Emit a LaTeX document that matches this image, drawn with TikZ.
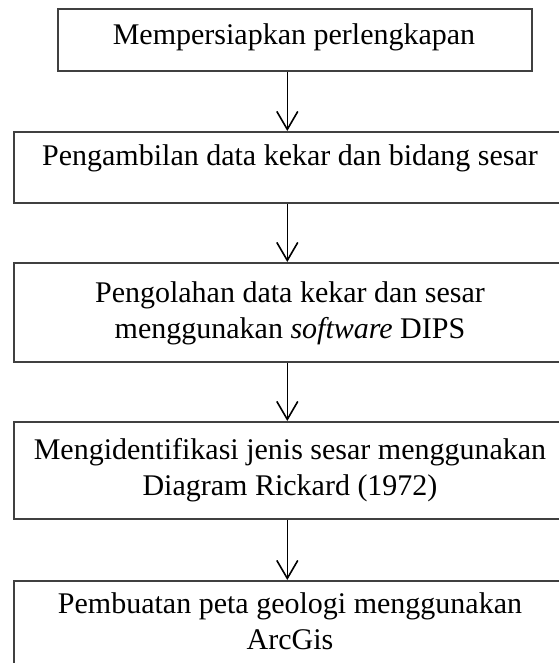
\documentclass[tikz,border=0pt]{standalone}
\usepackage{fontspec}
\setmainfont{Liberation Serif}
\usetikzlibrary{arrows.meta}
\begin{document}
\begin{tikzpicture}[x=1pt,y=-1pt,
  boxst/.style={draw=black!75,line width=1.6pt,inner sep=0pt},
  txt/.style={font=\fontsize{30}{36}\selectfont,align=center,inner sep=0pt,anchor=base},
  arr/.style={line width=1.6pt,draw=black,-{Straight Barb[length=18pt,width=21pt,line width=1.6pt]}}]
\useasboundingbox (0,0) rectangle (558,663);
\fill[white] (0,0) rectangle (558,663);
\node[boxst,minimum width=474pt,minimum height=62pt,anchor=north west] (b1) at (57,8) {};
\node[boxst,minimum width=547pt,minimum height=71pt,anchor=north west] (b2) at (13,131) {};
\node[boxst,minimum width=547pt,minimum height=99pt,anchor=north west] (b3) at (13,262) {};
\node[boxst,minimum width=547pt,minimum height=97pt,anchor=north west] (b4) at (13,421) {};
\node[boxst,minimum width=547pt,minimum height=99pt,anchor=north west] (b5) at (13,580) {};
\node[txt] (t1) at (294,45) {Mempersiapkan perlengkapan};
\node[txt] (t2) at (290,165) {Pengambilan data kekar dan bidang sesar};
\node[txt] (t3) at (290,338) {Pengolahan data kekar dan sesar\\menggunakan \textit{software} DIPS};
\node[txt] (t4) at (290,495) {Mengidentifikasi jenis sesar menggunakan\\Diagram Rickard (1972)};
\node[txt] (t5) at (290,649) {Pembuatan peta geologi menggunakan\\ArcGis};
\draw[arr] (b1.south -| b2.north) -- (b2.north);
\draw[arr] (b2.south) -- (b3.north);
\draw[arr] (b3.south) -- (b4.north);
\draw[arr] (b4.south) -- (b5.north);
\end{tikzpicture}
\end{document}
